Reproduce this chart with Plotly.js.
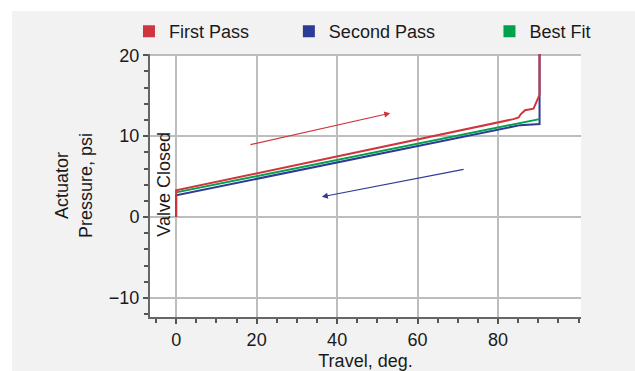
<!DOCTYPE html>
<html>
<head>
<meta charset="utf-8">
<script src="https://cdn.plot.ly/plotly-3.0.1.min.js"></script>
<style>html,body{margin:0;padding:0;background:#fff;}#chart{width:635px;height:371px;}</style>
</head>
<body>
<div id="chart"></div>
<script>
// ---- data ----
var seriesNames = ['First Pass', 'Second Pass', 'Best Fit'];
var seriesColors = ['#d0343c', '#2e3b94', '#00a04c'];

var firstPassTravel   = [0, 0, 83.8, 85.1, 85.6, 86.7, 88.8, 89.6, 90.3, 90.3];
var firstPassPressure = [0, 3.3, 12.1, 12.3, 12.7, 13.2, 13.4, 14.2, 15.1, 20.2];

var secondPassTravel   = [0, 0, 85.5, 90.3, 90.3];
var secondPassPressure = [0, 2.7, 11.36, 11.5, 20.4];

var bestFitTravel   = [0, 90.3];
var bestFitPressure = [3.05, 12.1];

var xTickVals = [0, 20, 40, 60, 80];
var yTickVals = [-10, 0, 10, 20];

var FONT = '"Liberation Sans", Arial, Helvetica, sans-serif';
var FS = 18;
var TXT = '#1a1a1a';

var traces = [
  {x: secondPassTravel, y: secondPassPressure, mode: 'lines', line: {color: seriesColors[1], width: 2}, showlegend: false, hoverinfo: 'skip'},
  {x: bestFitTravel, y: bestFitPressure, mode: 'lines', line: {color: seriesColors[2], width: 2}, showlegend: false, hoverinfo: 'skip'},
  {x: firstPassTravel, y: firstPassPressure, mode: 'lines', line: {color: seriesColors[0], width: 2}, showlegend: false, hoverinfo: 'skip'}
];
var legendIds = ['legend', 'legend2', 'legend3'];
for (var i = 0; i < 3; i++) {
  traces.push({x: [null], y: [null], mode: 'markers', name: seriesNames[i], legend: legendIds[i],
    marker: {symbol: 'square', size: 12, color: seriesColors[i]}, showlegend: true});
}

function leg(x) {
  return {x: x, xanchor: 'left', y: 1.085, yanchor: 'middle', orientation: 'h',
    bgcolor: 'rgba(0,0,0,0)', font: {family: FONT, size: FS, color: TXT}, itemwidth: 30};
}

var layout = {
  width: 635, height: 371,
  margin: {l: 150, r: 54, t: 54, b: 54},
  paper_bgcolor: '#f2f2f2',
  plot_bgcolor: '#ffffff',
  font: {family: FONT, size: FS, color: TXT},
  legend: leg(-0.0488),
  legend2: leg(0.3222),
  legend3: leg(0.7876),
  xaxis: {
    range: [-6.5, 100.6], tickvals: xTickVals, ticktext: xTickVals.map(String),
    showgrid: true, gridcolor: '#bdbdbd', gridwidth: 2, zeroline: false,
    showline: true, linecolor: '#666', linewidth: 2,
    ticks: 'outside', ticklen: 5, tickwidth: 2, tickcolor: '#555',
    minor: {dtick: 5, tick0: 0, ticks: 'outside', ticklen: 4, tickwidth: 2, tickcolor: '#555', showgrid: false},
    tickfont: {family: FONT, size: FS, color: TXT},
    title: {text: 'Travel, deg.', font: {family: FONT, size: FS, color: TXT}, standoff: 8}
  },
  yaxis: {
    range: [-12.35, 20.15], tickvals: yTickVals, ticktext: ['\u221210', '0', '10', '20'],
    showgrid: true, gridcolor: '#bdbdbd', gridwidth: 2, zeroline: false,
    showline: true, linecolor: '#666', linewidth: 2,
    ticks: 'outside', ticklen: 5, tickwidth: 2, tickcolor: '#555',
    minor: {dtick: 2, tick0: 0, ticks: 'outside', ticklen: 4, tickwidth: 2, tickcolor: '#555', showgrid: false},
    tickfont: {family: FONT, size: FS, color: TXT},
    title: {text: 'Actuator<br>Pressure, psi', font: {family: FONT, size: FS, color: TXT}, standoff: 12}
  },
  shapes: [
    {type: 'rect', xref: 'paper', yref: 'paper', x0: -0.40, x1: 1.2, y0: 1.1635, y1: 1.3, fillcolor: '#ffffff', line: {width: 0}, layer: 'below'},
    {type: 'rect', xref: 'paper', yref: 'paper', x0: -0.40, x1: -0.3202, y0: -0.3, y1: 1.3, fillcolor: '#ffffff', line: {width: 0}, layer: 'below'}
  ],
  annotations: [
    {x: -3, y: 4.0, xref: 'x', yref: 'y', text: 'Valve Closed', textangle: -90, showarrow: false,
      font: {family: FONT, size: FS, color: TXT}},
    {x: 53.2, y: 12.84, ax: 18.1, ay: 8.9, xref: 'x', yref: 'y', axref: 'x', ayref: 'y', text: '',
      showarrow: true, arrowhead: 2, arrowsize: 1, arrowwidth: 1.2, arrowcolor: seriesColors[0]},
    {x: 36.2, y: 2.5, ax: 71.8, ay: 5.93, xref: 'x', yref: 'y', axref: 'x', ayref: 'y', text: '',
      showarrow: true, arrowhead: 2, arrowsize: 1, arrowwidth: 1.2, arrowcolor: seriesColors[1]}
  ]
};

Plotly.newPlot('chart', traces, layout, {staticPlot: true, displayModeBar: false});
</script>
</body>
</html>
